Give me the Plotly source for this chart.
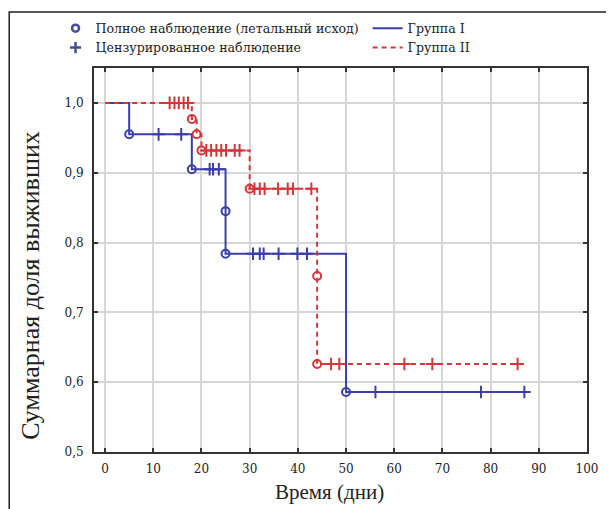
import plotly.graph_objects as go

# ---- data ----
# Group I (solid blue): Kaplan-Meier step curve
g1_time = [0, 5, 18, 25, 25, 50, 87]
g1_surv = [1.0, 0.955, 0.905, 0.845, 0.784, 0.586, 0.586]
g1_event_time = [5, 18, 25, 25, 50]
g1_event_surv = [0.955, 0.905, 0.845, 0.784, 0.586]
g1_cens_time = [11.1, 15.8, 21.7, 22.4, 23.6, 30.7, 32.1, 32.9, 36.0, 39.9, 41.9, 56.1, 78.0, 87.0]

# Group II (dashed red)
g2_time = [0, 18, 19, 20, 30, 44, 44, 86]
g2_surv = [1.0, 0.977, 0.955, 0.932, 0.877, 0.752, 0.626, 0.626]
g2_event_time = [18, 19, 20, 30, 44, 44]
g2_event_surv = [0.977, 0.955, 0.932, 0.877, 0.752, 0.626]
g2_cens_time = [13.4, 14.4, 15.3, 16.3, 17.2, 21.0, 22.0, 23.1, 24.1, 25.1, 26.9, 27.9,
                31.0, 32.1, 33.1, 35.9, 37.9, 39.0, 42.8, 46.9, 48.6, 62.1, 67.9, 85.6]

x_ticks = [0, 10, 20, 30, 40, 50, 60, 70, 80, 90, 100]
y_ticks = [0.5, 0.6, 0.7, 0.8, 0.9, 1.0]

legend_labels = ["Полное наблюдение (летальный исход)", "Цензурированное наблюдение",
                 "Группа I", "Группа II"]
x_title = "Время (дни)"
y_title = "Суммарная доля выживших"


def surv_at(times, survs, t):
    """survival value of a step curve at time t (right-continuous)."""
    s = survs[0]
    for ti, si in zip(times, survs):
        if ti <= t:
            s = si
    return s


g1_cens_surv = [surv_at(g1_time, g1_surv, t) for t in g1_cens_time]
g2_cens_surv = [surv_at(g2_time, g2_surv, t) for t in g2_cens_time]

BLUE = "#3b3fa8"
RED = "#d4363a"
SERIF = "Liberation Serif"
LEG_FONT = dict(family="DejaVu Serif", size=12.6, color="#222222")

fig = go.Figure()

# Group I
fig.add_trace(go.Scatter(x=g1_time, y=g1_surv, mode="lines", line=dict(color=BLUE, width=2, shape="hv"),
                         name=legend_labels[2], legend="legend2"))
fig.add_trace(go.Scatter(x=g1_cens_time, y=g1_cens_surv, mode="markers", showlegend=False,
                         marker=dict(symbol="cross-thin-open", size=9, color=BLUE, line=dict(width=2, color=BLUE))))
fig.add_trace(go.Scatter(x=g1_event_time, y=g1_event_surv, mode="markers", showlegend=False,
                         marker=dict(symbol="circle-open", size=8, color=BLUE, line=dict(width=2, color=BLUE))))

# Group II
fig.add_trace(go.Scatter(x=g2_time, y=g2_surv, mode="lines",
                         line=dict(color=RED, width=2, shape="hv", dash="5px,4px"),
                         name=legend_labels[3], legend="legend2"))
fig.add_trace(go.Scatter(x=g2_cens_time, y=g2_cens_surv, mode="markers", showlegend=False,
                         marker=dict(symbol="cross-thin-open", size=9, color=RED, line=dict(width=2, color=RED))))
fig.add_trace(go.Scatter(x=g2_event_time, y=g2_event_surv, mode="markers", showlegend=False,
                         marker=dict(symbol="circle-open", size=8, color=RED, line=dict(width=2, color=RED))))

# legend-only marker entries
fig.add_trace(go.Scatter(x=[None], y=[None], mode="markers", name=legend_labels[0], legend="legend",
                         marker=dict(symbol="circle-open", size=7, color="#4a4a9a", line=dict(width=2.5, color="#4a4a9a"))))
fig.add_trace(go.Scatter(x=[None], y=[None], mode="markers", name=legend_labels[1], legend="legend",
                         marker=dict(symbol="cross-thin-open", size=8, color="#4a4a9a", line=dict(width=2.5, color="#4a4a9a"))))

axis_common = dict(showline=True, linecolor="#333333", linewidth=2, mirror="ticks",
                   ticks="inside", ticklen=4, tickcolor="#333333", tickwidth=1.5,
                   showgrid=True, gridcolor="#d6d6d6", gridwidth=1.5, zeroline=False,
                   tickfont=dict(family="DejaVu Serif", size=12, color="#222222"))

fig.update_layout(
    width=614, height=509,
    margin=dict(l=86, r=35, t=60, b=65, autoexpand=False),
    paper_bgcolor="white", plot_bgcolor="white",
    separators=",.",
    xaxis=dict(range=[-2.3, 100], tickvals=x_ticks, ticklabelstandoff=5, **axis_common),
    yaxis=dict(range=[0.5, 1.05], tickvals=y_ticks, tickformat=".1f", ticklabelstandoff=6, **axis_common),
    legend=dict(x=-0.078, y=1.142, xanchor="left", yanchor="top", bgcolor="rgba(0,0,0,0)",
                font=LEG_FONT, tracegroupgap=0, itemsizing="trace"),
    legend2=dict(x=0.555, y=1.142, xanchor="left", yanchor="top", bgcolor="rgba(0,0,0,0)",
                 font=LEG_FONT, tracegroupgap=0),
    showlegend=True,
    annotations=[
        dict(text=x_title, x=0.478, y=-0.104, xref="paper", yref="paper", xanchor="center", yanchor="middle",
             showarrow=False, font=dict(family=SERIF, size=21, color="#222222")),
        dict(text=y_title, x=-0.128, y=0.435, xref="paper", yref="paper", xanchor="center", yanchor="middle",
             textangle=-90, showarrow=False, font=dict(family=SERIF, size=26, color="#222222")),
    ],
    shapes=[dict(type="rect", xref="paper", yref="paper", x0=-0.172, x1=1.5, y0=-0.5, y1=1.146,
                 line=dict(color="#222222", width=1.5), fillcolor="rgba(0,0,0,0)", layer="below")],
)

fig.write_html("out.html")
